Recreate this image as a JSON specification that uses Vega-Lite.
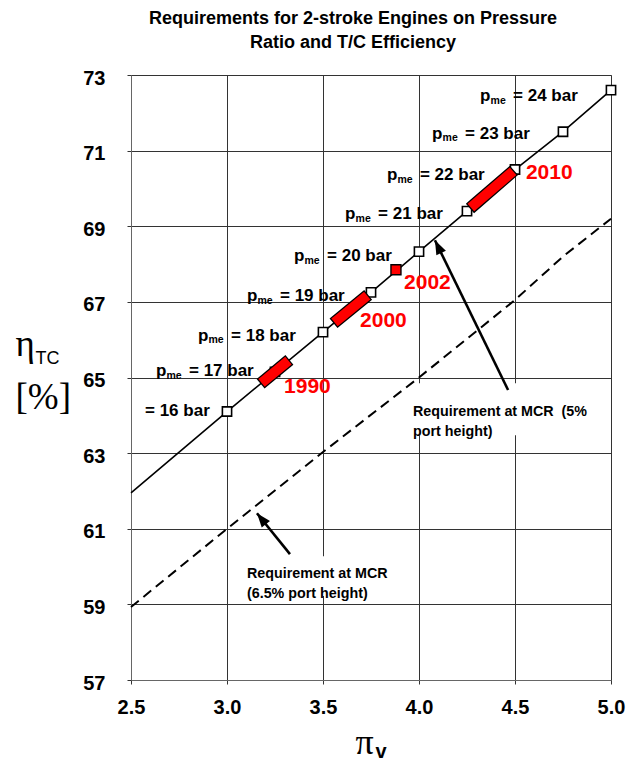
{
  "$schema": "https://vega.github.io/schema/vega-lite/v6.json",
  "width": 480,
  "height": 605,
  "autosize": "none",
  "padding": {"left": 131, "top": 75, "right": 15, "bottom": 82},
  "background": "white",
  "config": {
    "view": {"stroke": "#8a8a8a", "strokeWidth": 1},
    "font": "Liberation Sans",
    "axis": {
      "labelFont": "Liberation Sans",
      "labelFontWeight": "bold",
      "labelFontSize": 20,
      "labelColor": "black",
      "tickColor": "#333333",
      "tickSize": 4,
      "domainColor": "#666666",
      "gridColor": "#333333",
      "gridWidth": 1,
      "gridOpacity": 1
    }
  },
  "title": {
    "text": ["Requirements for 2-stroke Engines on Pressure", "Ratio and T/C Efficiency"],
    "font": "Liberation Sans",
    "fontSize": 18,
    "fontWeight": "bold",
    "color": "black",
    "lineHeight": 24,
    "anchor": "middle",
    "frame": "group",
    "baseline": "bottom",
    "dx": -18,
    "dy": 24,
    "offset": 22
  },
  "datasets": {
    "req5": [
      {"pi": 2.5, "eta": 61.95},
      {"pi": 3.0, "eta": 64.1},
      {"pi": 3.5, "eta": 66.2},
      {"pi": 3.75, "eta": 67.25},
      {"pi": 4.0, "eta": 68.33},
      {"pi": 4.25, "eta": 69.4},
      {"pi": 4.5, "eta": 70.5},
      {"pi": 4.75, "eta": 71.5},
      {"pi": 5.0, "eta": 72.6}
    ],
    "req65": [
      {"pi": 2.5, "eta": 58.93},
      {"pi": 3.0, "eta": 61.0},
      {"pi": 3.5, "eta": 63.03},
      {"pi": 4.0, "eta": 65.0},
      {"pi": 4.5, "eta": 67.05},
      {"pi": 4.75, "eta": 68.2},
      {"pi": 5.0, "eta": 69.2}
    ],
    "pmePoints": [
      {"pme": 16, "pi": 3.0, "eta": 64.1},
      {"pme": 17, "pi": 3.25, "eta": 65.15},
      {"pme": 18, "pi": 3.5, "eta": 66.2},
      {"pme": 19, "pi": 3.75, "eta": 67.25},
      {"pme": 20, "pi": 4.0, "eta": 68.33},
      {"pme": 21, "pi": 4.25, "eta": 69.4},
      {"pme": 22, "pi": 4.5, "eta": 70.5},
      {"pme": 23, "pi": 4.75, "eta": 71.5},
      {"pme": 24, "pi": 5.0, "eta": 72.6}
    ],
    "pmeLabels": [
      {"pme": 16, "pi": 2.573, "eta": 64.11, "label": "= 16 bar"},
      {"pme": 17, "pi": 2.802, "eta": 65.17, "label": "= 17 bar"},
      {"pme": 18, "pi": 3.021, "eta": 66.1, "label": "= 18 bar"},
      {"pme": 19, "pi": 3.276, "eta": 67.15, "label": "= 19 bar"},
      {"pme": 20, "pi": 3.521, "eta": 68.21, "label": "= 20 bar"},
      {"pme": 21, "pi": 3.787, "eta": 69.32, "label": "= 21 bar"},
      {"pme": 22, "pi": 4.005, "eta": 70.35, "label": "= 22 bar"},
      {"pme": 23, "pi": 4.24, "eta": 71.44, "label": "= 23 bar"},
      {"pme": 24, "pi": 4.49, "eta": 72.44, "label": "= 24 bar"}
    ],
    "eras": [
      {"year": "1990", "pi": 3.2, "eta": 64.94},
      {"year": "1990", "pi": 3.3, "eta": 65.36},
      {"year": "2000", "pi": 3.58, "eta": 66.54},
      {"year": "2000", "pi": 3.71, "eta": 67.08},
      {"year": "2010", "pi": 4.29, "eta": 69.58},
      {"year": "2010", "pi": 4.47, "eta": 70.37}
    ],
    "point2002": [
      {"year": "2002", "pi": 3.88, "eta": 67.85}
    ],
    "yearLabels": [
      {"year": "1990", "pi": 3.297, "eta": 64.75},
      {"year": "2000", "pi": 3.693, "eta": 66.49},
      {"year": "2002", "pi": 3.922, "eta": 67.5},
      {"year": "2010", "pi": 4.557, "eta": 70.41}
    ],
    "notes": [
      {"note": "5%", "pi": 3.969, "eta": 64.08, "lines": ["Requirement at MCR\u00a0 (5%", "port height)"], "pi0": 3.95, "pi1": 4.94, "eta0": 63.47, "eta1": 64.85},
      {"note": "6.5%", "pi": 3.104, "eta": 59.8, "lines": ["Requirement at MCR", "(6.5% port height)"], "pi0": 3.09, "pi1": 3.875, "eta0": 59.22, "eta1": 60.27}
    ],
    "arrows": [
      {"note": "5%", "piTail": 4.464, "etaTail": 64.67, "piHead": 4.083, "etaHead": 68.63},
      {"note": "6.5%", "piTail": 3.328, "etaTail": 60.33, "piHead": 3.156, "etaHead": 61.41}
    ]
  },
  "layer": [
    {
      "layer": [
        {
          "data": {"name": "notes"},
          "mark": {"type": "rect", "fill": "white", "stroke": null},
          "encoding": {
            "x": {"field": "pi0", "type": "quantitative", "scale": {"domain": [2.5, 5.0], "nice": false, "zero": false},
              "axis": {
                "values": [2.5, 3.0, 3.5, 4.0, 4.5, 5.0],
                "format": ".1f",
                "grid": true,
                "labelFlush": false,
                "labelPadding": 13,
                "title": "π",
                "titleFont": "Liberation Serif",
                "titleFontSize": 36,
                "titleFontWeight": "normal",
                "titleColor": "black",
                "titleAlign": "left",
                "titleBaseline": "alphabetic",
                "titleX": 224,
                "titleY": 73
              }
            },
            "x2": {"field": "pi1"},
            "y": {"field": "eta0", "type": "quantitative", "scale": {"domain": [57, 73], "nice": false, "zero": false},
              "axis": {
                "values": [57, 59, 61, 63, 65, 67, 69, 71, 73],
                "grid": true,
                "labelPadding": 22,
                "labelOffset": 3,
                "title": ["η", "[%]"],
                "titleFont": "Liberation Serif",
                "titleFontSize": 37,
                "titleFontWeight": "normal",
                "titleColor": "black",
                "titleAngle": 0,
                "titleAlign": "left",
                "titleBaseline": "alphabetic",
                "titleLineHeight": 53,
                "titleX": -116,
                "titleY": 280
              }
            },
            "y2": {"field": "eta1"}
          }
        },
        {
          "data": {"name": "req5"},
          "mark": {"type": "line", "color": "black", "strokeWidth": 1.6},
          "encoding": {
            "x": {"field": "pi", "type": "quantitative"},
            "y": {"field": "eta", "type": "quantitative"}
          }
        },
        {
          "data": {"name": "pmePoints"},
          "mark": {"type": "point", "shape": "square", "size": 85, "filled": true, "fill": "white", "stroke": "black", "strokeWidth": 1.6, "opacity": 1},
          "encoding": {
            "x": {"field": "pi", "type": "quantitative"},
            "y": {"field": "eta", "type": "quantitative"}
          }
        },
        {
          "data": {"name": "eras"},
          "mark": {"type": "line", "color": "black", "strokeWidth": 12.5, "strokeCap": "square"},
          "encoding": {
            "x": {"field": "pi", "type": "quantitative"},
            "y": {"field": "eta", "type": "quantitative"},
            "detail": {"field": "year"}
          }
        },
        {
          "data": {"name": "eras"},
          "mark": {"type": "line", "color": "#ff0000", "strokeWidth": 10, "strokeCap": "square"},
          "encoding": {
            "x": {"field": "pi", "type": "quantitative"},
            "y": {"field": "eta", "type": "quantitative"},
            "detail": {"field": "year"}
          }
        },
        {
          "data": {"name": "point2002"},
          "mark": {"type": "point", "shape": "square", "size": 100, "filled": true, "fill": "#ff0000", "stroke": "black", "strokeWidth": 1.4, "opacity": 1},
          "encoding": {
            "x": {"field": "pi", "type": "quantitative"},
            "y": {"field": "eta", "type": "quantitative"}
          }
        },
        {
          "data": {"name": "pmeLabels"},
          "transform": [{"filter": "datum.pme > 16"}],
          "mark": {"type": "text", "text": "p", "align": "left", "baseline": "middle", "dx": -33, "font": "Liberation Sans", "fontWeight": "bold", "fontSize": 17, "color": "black"},
          "encoding": {
            "x": {"field": "pi", "type": "quantitative"},
            "y": {"field": "eta", "type": "quantitative"}
          }
        },
        {
          "data": {"name": "pmeLabels"},
          "transform": [{"filter": "datum.pme > 16"}],
          "mark": {"type": "text", "text": "me", "align": "left", "baseline": "middle", "dx": -22.5, "dy": 4.5, "font": "Liberation Sans", "fontWeight": "bold", "fontSize": 10.5, "color": "black"},
          "encoding": {
            "x": {"field": "pi", "type": "quantitative"},
            "y": {"field": "eta", "type": "quantitative"}
          }
        },
        {
          "data": {"name": "pmeLabels"},
          "mark": {"type": "text", "align": "left", "baseline": "middle", "font": "Liberation Sans", "fontWeight": "bold", "fontSize": 17, "color": "black"},
          "encoding": {
            "x": {"field": "pi", "type": "quantitative"},
            "y": {"field": "eta", "type": "quantitative"},
            "text": {"field": "label"}
          }
        },
        {
          "data": {"name": "yearLabels"},
          "mark": {"type": "text", "align": "left", "baseline": "middle", "font": "Liberation Sans", "fontWeight": "bold", "fontSize": 21, "color": "#ff0000"},
          "encoding": {
            "x": {"field": "pi", "type": "quantitative"},
            "y": {"field": "eta", "type": "quantitative"},
            "text": {"field": "year"}
          }
        },
        {
          "data": {"name": "notes"},
          "mark": {"type": "text", "align": "left", "baseline": "middle", "lineHeight": 20, "font": "Liberation Sans", "fontWeight": "bold", "fontSize": 14.3, "color": "black"},
          "encoding": {
            "x": {"field": "pi", "type": "quantitative"},
            "y": {"field": "eta", "type": "quantitative"},
            "text": {"field": "lines"}
          }
        },
        {
          "data": {"name": "arrows"},
          "mark": {"type": "rule", "color": "black", "strokeWidth": 2.6},
          "encoding": {
            "x": {"field": "piTail", "type": "quantitative"},
            "y": {"field": "etaTail", "type": "quantitative"},
            "x2": {"field": "piHead"},
            "y2": {"field": "etaHead"}
          }
        },
        {
          "data": {"name": "arrows"},
          "transform": [{"filter": "datum.note == '5%'"}],
          "mark": {"type": "point", "shape": "M0,0L-0.75,2L0.75,2Z", "size": 200, "angle": 334, "filled": true, "color": "black", "opacity": 1},
          "encoding": {
            "x": {"field": "piHead", "type": "quantitative"},
            "y": {"field": "etaHead", "type": "quantitative"}
          }
        },
        {
          "data": {"name": "arrows"},
          "transform": [{"filter": "datum.note == '6.5%'"}],
          "mark": {"type": "point", "shape": "M0,0L-0.75,2L0.75,2Z", "size": 200, "angle": 321, "filled": true, "color": "black", "opacity": 1},
          "encoding": {
            "x": {"field": "piHead", "type": "quantitative"},
            "y": {"field": "etaHead", "type": "quantitative"}
          }
        }
      ]
    },
    {
      "data": {"name": "req65"},
      "mark": {"type": "line", "color": "black", "strokeWidth": 2, "strokeDash": [10, 6]},
      "encoding": {
        "x": {"field": "pi", "type": "quantitative",
          "axis": {
            "orient": "bottom",
            "labels": false, "ticks": false, "domain": false, "grid": false,
            "title": "v",
            "titleFont": "Liberation Sans",
            "titleFontSize": 20,
            "titleFontWeight": "bold",
            "titleColor": "black",
            "titleAlign": "left",
            "titleBaseline": "alphabetic",
            "titleX": 244,
            "titleY": 77
          }
        },
        "y": {"field": "eta", "type": "quantitative",
          "axis": {
            "orient": "left",
            "labels": false, "ticks": false, "domain": false, "grid": false,
            "title": "TC",
            "titleFont": "Liberation Sans",
            "titleFontSize": 18,
            "titleFontWeight": "normal",
            "titleColor": "black",
            "titleAngle": 0,
            "titleAlign": "left",
            "titleBaseline": "alphabetic",
            "titleX": -96,
            "titleY": 288
          }
        }
      }
    }
  ],
  "resolve": {"axis": {"x": "independent", "y": "independent"}}
}
